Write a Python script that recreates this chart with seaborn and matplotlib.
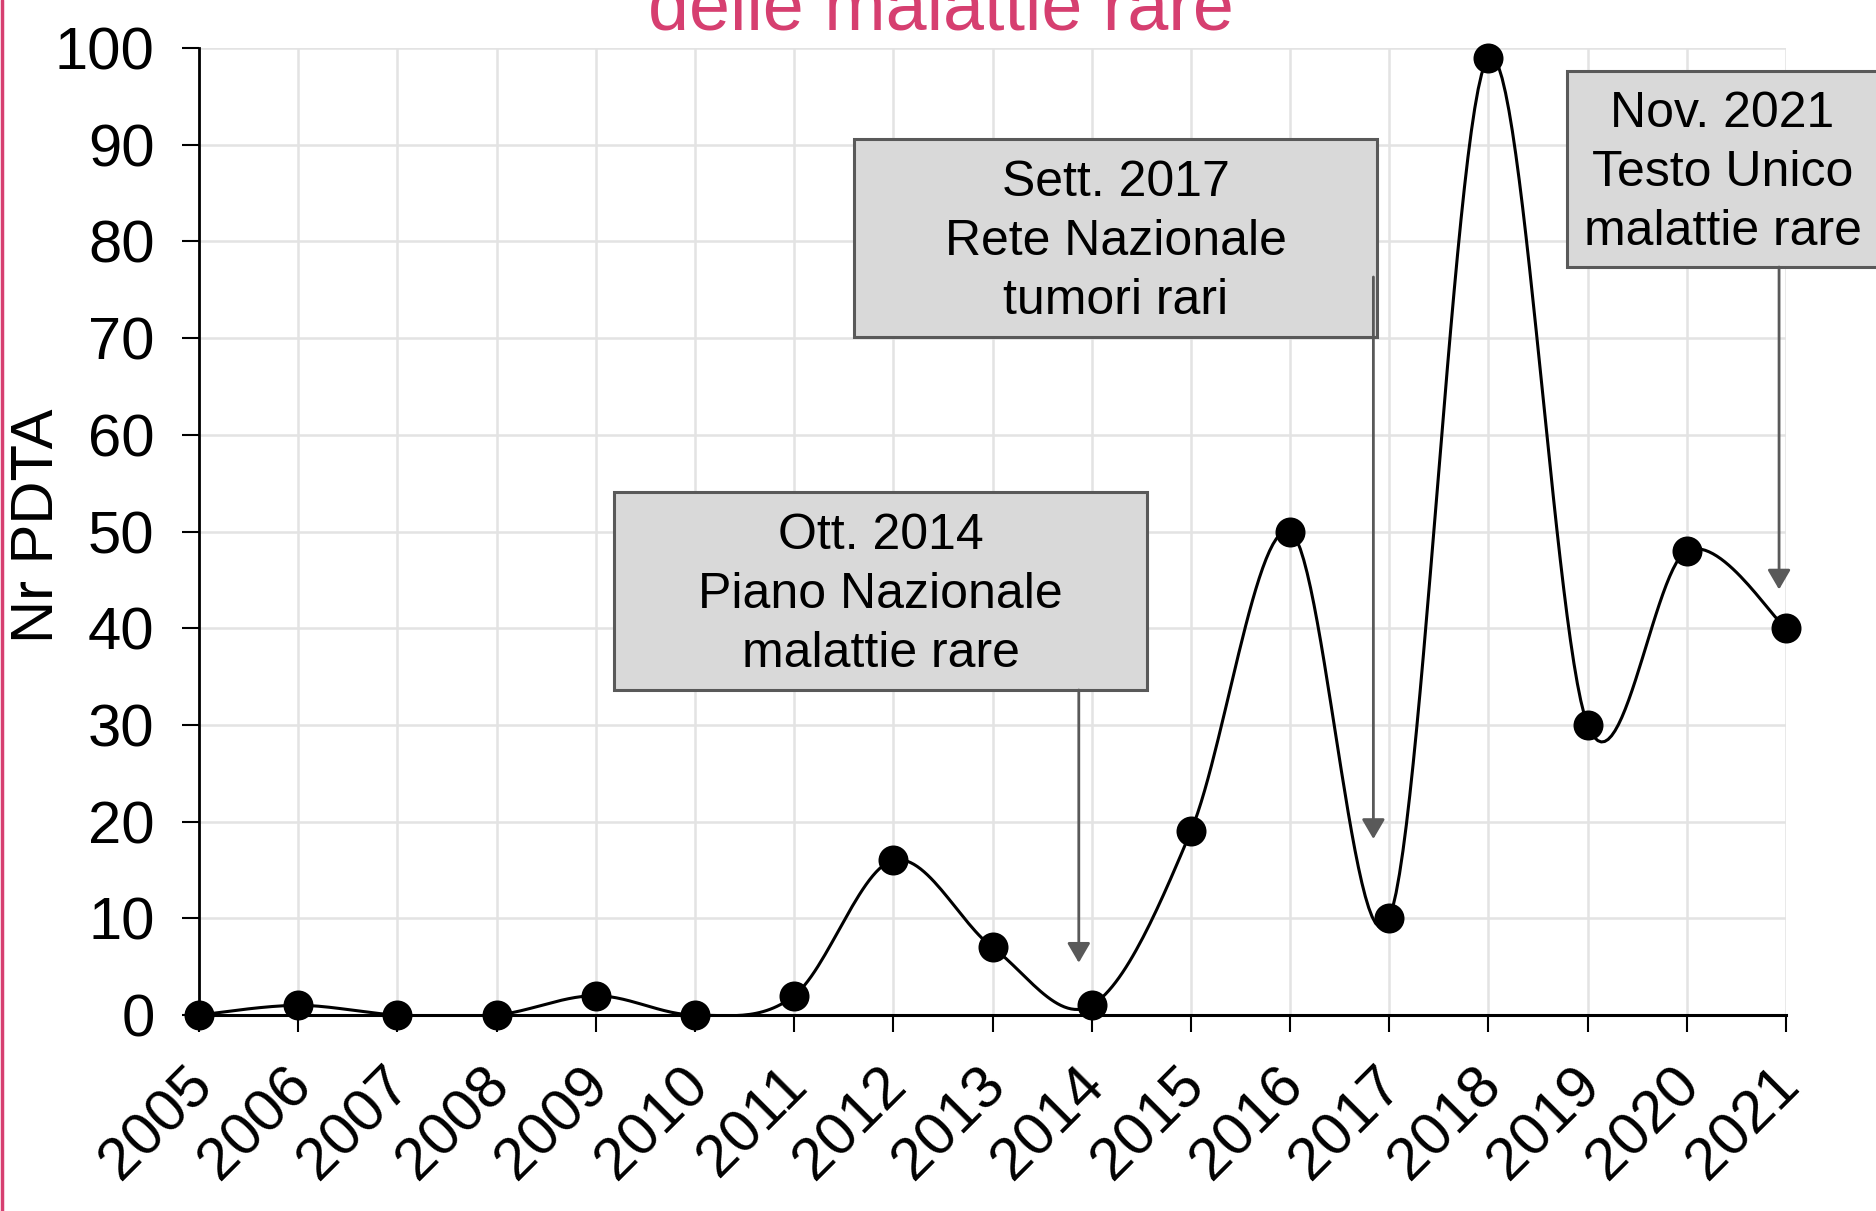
import numpy as np
import pandas as pd
import seaborn as sns
import matplotlib.pyplot as plt
from matplotlib.lines import Line2D
from matplotlib.patches import FancyArrowPatch
import matplotlib.transforms as mtransforms

## DATA
years = [2005, 2006, 2007, 2008, 2009, 2010, 2011, 2012, 2013,
         2014, 2015, 2016, 2017, 2018, 2019, 2020, 2021]
n_pdta = [0, 1, 0, 0, 2, 0, 2, 16, 7, 1, 19, 50, 10, 99, 30, 48, 40]

notes = ["Ott. 2014\nPiano Nazionale\nmalattie rare",
         "Sett. 2017\nRete Nazionale\ntumori rari",
         "Nov. 2021\nTesto Unico\nmalattie rare"]
note_x = [2013.87, 2016.84, 2020.93]     # arrow position (year)
note_tip = [5.4, 18.2, 44.0]             # arrow tip value

PINK = "#D63F70"
GREY = "#595959"


def smooth_line(x, y, steps=30):
    # excel-like smoothed line (catmull-rom as bezier)
    x = np.asarray(x, float)
    y = np.asarray(y, float)
    xs, ys = [], []
    n = len(x)
    t = np.linspace(0, 1, steps)
    for i in range(n - 1):
        i0, i3 = max(i - 1, 0), min(i + 2, n - 1)
        p0 = np.array([x[i], y[i]])
        p3 = np.array([x[i + 1], y[i + 1]])
        c1 = p0 + (np.array([x[i + 1], y[i + 1]]) - np.array([x[i0], y[i0]])) / 6
        c2 = p3 - (np.array([x[i3], y[i3]]) - np.array([x[i], y[i]])) / 6
        b = ((1 - t) ** 3)[:, None] * p0 + (3 * (1 - t) ** 2 * t)[:, None] * c1 \
            + (3 * (1 - t) * t ** 2)[:, None] * c2 + (t ** 3)[:, None] * p3
        xs.extend(b[:, 0])
        ys.extend(b[:, 1])
    return pd.DataFrame({"x": xs, "y": ys})


df = pd.DataFrame({"year": years, "n": n_pdta})
curve = smooth_line(years, n_pdta)

sns.set_style("white")
plt.rcParams["font.family"] = ["Liberation Sans", "DejaVu Sans"]
for k in ["text.color", "axes.labelcolor", "xtick.color", "ytick.color"]:
    plt.rcParams[k] = "black"

fig = plt.figure(figsize=(18.76, 12.11), dpi=100)
ax = fig.add_axes([199 / 1876, 1 - 1015 / 1211, (1786 - 199) / 1876, (1015 - 48) / 1211])

sns.lineplot(data=curve, x="x", y="y", sort=False, color="black", lw=2.2, ax=ax)
sns.scatterplot(data=df, x="year", y="n", color="black", s=400, edgecolor="black",
                zorder=5, clip_on=False, ax=ax)

ax.set_xlim(2005, 2021)
ax.set_ylim(0, 100)
ax.set_xticks(years)
ax.set_yticks(range(0, 101, 10))
ax.tick_params(axis="y", labelsize=43, length=12, width=1.5, pad=20)
ax.tick_params(axis="x", length=12, width=1.5, pad=14, direction="out")
ax.tick_params(left=True, bottom=True)
ax.set_xticklabels([str(y) for y in years], rotation=45, ha="right",
                   rotation_mode="anchor", fontsize=43)
# nudge the rotated year labels (after tick_params, which resets transforms)
shift = mtransforms.ScaledTranslation(-15 / 100, -6 / 100, fig.dpi_scale_trans)
for lab in ax.get_xticklabels():
    lab.set_transform(lab.get_transform() + shift)
ax.grid(True, color="#E3E3E3", lw=1.8)
ax.set_axisbelow(True)
for s in ["top", "right"]:
    ax.spines[s].set_visible(False)
ax.spines["left"].set_color("black")
ax.spines["bottom"].set_color("black")
ax.spines["left"].set_linewidth(2)
ax.spines["bottom"].set_linewidth(2.2)
ax.set_xlabel("")
ax.set_ylabel("Nr PDTA", fontsize=43, va="center")
ax.yaxis.set_label_coords(-0.102, 0.506)

## ANNOTATIONS (box position in figure pixels: left, top, right, bottom)
boxes = [(614, 492, 1147, 690), (854, 139, 1377, 337), (1567, 71, 1878, 267)]
arrow_top = [690, 277, 267]
to_fig = fig.transFigure.inverted()
for txt, xv, tip, (l, t, r, b), at in zip(notes, note_x, note_tip, boxes, arrow_top):
    rect = plt.Rectangle((l / 1876, 1 - b / 1211), (r - l) / 1876, (b - t) / 1211,
                         transform=fig.transFigure, facecolor="#D9D9D9",
                         edgecolor=GREY, lw=2.2, zorder=6)
    fig.add_artist(rect)
    fig.text((l + r) / 2 / 1876, 1 - ((t + b) / 2 + 4) / 1211, txt, ha="center",
             va="center", fontsize=36, linespacing=1.36, zorder=7)
    tx, ty = to_fig.transform(ax.transData.transform((xv, tip)))
    arr = FancyArrowPatch((tx, 1 - at / 1211), (tx, ty), transform=fig.transFigure,
                          arrowstyle="-|>,head_length=1.2,head_width=0.7",
                          mutation_scale=10, color=GREY, lw=2, shrinkA=0, shrinkB=0,
                          zorder=8)
    fig.add_artist(arr)

fig.text(941 / 1876, 1 - 30 / 1211, "delle malattie rare", color=PINK, fontsize=53,
         ha="center", va="baseline")
fig.add_artist(Line2D([0.0008, 0.0008], [0, 1], color=PINK, lw=2.5,
                      transform=fig.transFigure))

fig.savefig("out.png", dpi=100)
